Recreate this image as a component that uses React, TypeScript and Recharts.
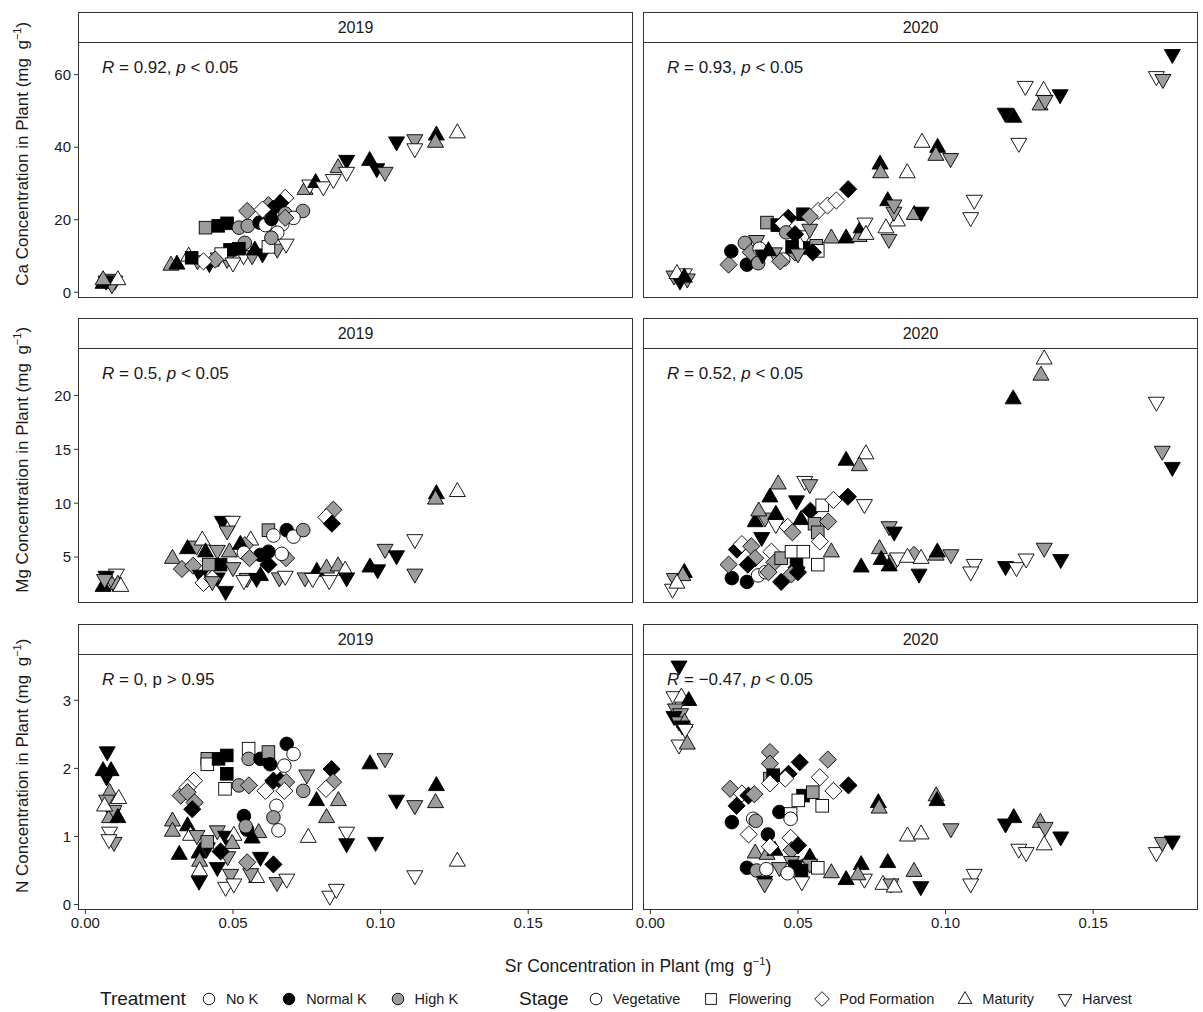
import React from 'react';
import { ScatterChart, Scatter, XAxis, YAxis } from 'recharts';

// [Sr, value, treatment (0 No K, 1 Normal K, 2 High K), stage (0 Veg, 1 Flow, 2 Pod, 3 Mat, 4 Harv)]
type Pt = [number, number, number, number];

const years = ['2019', '2020'];
const treatments = ['No K', 'Normal K', 'High K'];
const stages = ['Vegetative', 'Flowering', 'Pod Formation', 'Maturity', 'Harvest'];

const srTicks = [0, 0.05, 0.1, 0.15];
const caTicks = [0, 20, 40, 60];
const mgTicks = [5, 10, 15, 20];
const nTicks = [0, 1, 2, 3];

const caStats = ['0.92', '0.93'];
const mgStats = ['0.5', '0.52'];
const nStats = ['0', '\u22120.47'];
const nPText = ['p > 0.95', ''];

const ca2019: Pt[] = [
  [0.006, 2.5, 1, 3], [0.008, 3.5, 2, 4], [0.010, 3.0, 0, 4], [0.009, 2.0, 2, 4], [0.011, 3.5, 0, 3], [0.007, 3.0, 1, 4], [0.006, 3.5, 2, 3],
  [0.029, 7.5, 2, 3], [0.031, 7.8, 1, 3], [0.035, 10.0, 0, 3], [0.038, 8.6, 2, 4], [0.042, 7.8, 1, 4], [0.045, 9.4, 2, 4], [0.048, 9.0, 2, 4],
  [0.049, 11.7, 1, 1], [0.046, 10.5, 0, 1], [0.044, 9.0, 2, 2], [0.0536, 10.0, 0, 4], [0.0565, 10.0, 2, 4], [0.054, 13.6, 2, 0], [0.0574, 11.7, 1, 3],
  [0.060, 10.5, 1, 4], [0.065, 11.8, 2, 4], [0.068, 13.2, 0, 4], [0.052, 12.0, 1, 1], [0.040, 8.5, 0, 2], [0.036, 9.5, 1, 1], [0.050, 8.0, 0, 4], [0.062, 12.5, 0, 1],
  [0.0407, 17.8, 2, 1], [0.045, 18.3, 1, 1], [0.048, 19.0, 1, 1], [0.052, 17.8, 2, 0], [0.055, 18.3, 2, 0], [0.059, 19.2, 1, 0], [0.0548, 22.4, 2, 2],
  [0.062, 24.0, 2, 2], [0.0635, 23.0, 1, 2], [0.0677, 26.0, 0, 2], [0.060, 22.8, 0, 2], [0.066, 24.6, 1, 2], [0.0677, 21.7, 2, 0], [0.0737, 22.4, 2, 0],
  [0.0705, 20.5, 0, 0], [0.0667, 18.8, 0, 0], [0.065, 16.4, 0, 0], [0.063, 15.0, 2, 0], [0.061, 18.5, 0, 0], [0.0677, 20.5, 2, 2], [0.063, 20.2, 1, 0],
  [0.0744, 28.4, 2, 3], [0.076, 29.5, 0, 4], [0.078, 30.3, 1, 3], [0.0806, 29.0, 0, 4], [0.084, 31.0, 0, 4], [0.0856, 34.4, 2, 3], [0.0885, 36.3, 1, 4],
  [0.0885, 33.0, 0, 4], [0.0963, 36.4, 1, 3], [0.0987, 34.0, 1, 4], [0.1015, 33.0, 2, 4], [0.1054, 41.4, 1, 4], [0.1116, 42.0, 2, 4], [0.1116, 39.5, 0, 4],
  [0.1189, 43.4, 1, 3], [0.1186, 41.4, 2, 3], [0.126, 44.0, 0, 3],
];

const ca2020: Pt[] = [
  [0.008, 4.4, 2, 4], [0.010, 3.0, 1, 4], [0.0115, 5.0, 0, 4], [0.0125, 3.6, 2, 4], [0.009, 5.2, 0, 3], [0.0115, 4.2, 1, 3],
  [0.0265, 7.6, 2, 2], [0.0274, 11.3, 1, 0], [0.0327, 7.6, 1, 0], [0.032, 13.6, 2, 0], [0.034, 11.0, 2, 2], [0.036, 14.2, 2, 4], [0.0365, 8.0, 2, 0],
  [0.037, 12.0, 0, 0], [0.042, 10.8, 2, 4], [0.0395, 19.2, 2, 1], [0.043, 18.5, 1, 1], [0.0467, 20.5, 1, 2], [0.045, 19.0, 0, 2], [0.046, 16.5, 2, 0],
  [0.0517, 21.5, 1, 1], [0.0523, 15.5, 0, 4], [0.054, 17.3, 2, 4], [0.049, 16.0, 1, 2], [0.049, 11.0, 2, 2], [0.048, 12.5, 1, 1], [0.054, 12.2, 1, 1],
  [0.0562, 12.8, 2, 1], [0.0567, 11.4, 0, 1], [0.055, 11.0, 1, 2], [0.050, 10.5, 2, 4], [0.040, 11.5, 1, 3], [0.045, 9.0, 0, 0], [0.044, 8.5, 2, 2],
  [0.038, 10.2, 1, 4], [0.0568, 22.4, 0, 2], [0.060, 23.9, 0, 2], [0.063, 25.3, 0, 2], [0.067, 28.4, 1, 2], [0.054, 20.8, 2, 2],
  [0.0613, 15.0, 2, 3], [0.0663, 15.0, 1, 3], [0.0707, 15.4, 2, 3], [0.0714, 17.8, 1, 3], [0.0727, 19.0, 0, 4], [0.073, 16.0, 0, 3], [0.0798, 17.8, 0, 3],
  [0.0808, 14.5, 2, 4], [0.0837, 19.7, 0, 3], [0.0825, 22.0, 2, 4], [0.0804, 25.3, 1, 3], [0.0825, 24.0, 2, 4], [0.0894, 21.5, 2, 3], [0.0917, 22.0, 1, 4],
  [0.0778, 35.4, 1, 3], [0.078, 33.0, 2, 3], [0.087, 33.0, 0, 3], [0.092, 41.4, 0, 3], [0.0973, 40.0, 1, 3], [0.0967, 37.8, 2, 3], [0.1017, 36.8, 2, 4],
  [0.1097, 25.3, 0, 4], [0.1085, 20.5, 0, 4], [0.1202, 49.3, 1, 4], [0.1231, 48.3, 1, 3], [0.1248, 41.0, 0, 4], [0.127, 56.7, 0, 4], [0.1332, 55.7, 0, 3],
  [0.132, 51.7, 2, 3], [0.1337, 52.8, 2, 4], [0.1388, 54.4, 1, 4], [0.1714, 59.4, 0, 4], [0.1736, 58.6, 2, 4], [0.1768, 65.5, 1, 4],
];

const mg2019: Pt[] = [
  [0.006, 2.3, 1, 3], [0.0094, 2.6, 2, 4], [0.0105, 3.4, 0, 4], [0.011, 2.5, 2, 3], [0.007, 3.2, 1, 4], [0.0065, 2.9, 2, 4], [0.012, 2.3, 0, 3],
  [0.0295, 4.9, 2, 3], [0.0346, 5.8, 1, 3], [0.0327, 3.9, 2, 2], [0.0377, 6.0, 2, 4], [0.0365, 4.2, 2, 2], [0.0396, 6.6, 0, 3], [0.039, 3.3, 1, 4],
  [0.0447, 3.05, 1, 4], [0.040, 2.6, 0, 2], [0.0464, 8.3, 1, 4], [0.0498, 8.3, 0, 4], [0.048, 7.4, 2, 4], [0.0447, 5.6, 2, 4], [0.0407, 5.5, 1, 3],
  [0.0488, 5.5, 2, 3], [0.0458, 4.3, 1, 1], [0.0418, 4.3, 2, 1], [0.050, 4.0, 2, 4], [0.0548, 3.0, 2, 4], [0.0475, 1.8, 1, 4], [0.056, 6.6, 0, 3],
  [0.054, 6.1, 2, 2], [0.0525, 6.2, 1, 3], [0.0537, 5.4, 0, 0], [0.043, 3.0, 0, 2], [0.043, 2.7, 2, 4], [0.0537, 2.8, 0, 4], [0.0593, 5.2, 1, 0],
  [0.0556, 4.9, 2, 2], [0.062, 5.5, 1, 0], [0.062, 4.3, 1, 2], [0.068, 4.9, 2, 2], [0.0665, 5.3, 0, 0], [0.0593, 3.3, 1, 3], [0.058, 3.0, 1, 4],
  [0.0657, 3.05, 2, 4], [0.0677, 3.2, 0, 4], [0.062, 7.5, 2, 1], [0.0637, 7.0, 0, 0], [0.0682, 7.5, 1, 0], [0.0705, 6.9, 0, 0], [0.0738, 7.5, 2, 0],
  [0.084, 9.4, 2, 2], [0.0816, 8.7, 0, 2], [0.0835, 8.1, 1, 2],
  [0.0744, 3.05, 2, 4], [0.0784, 3.7, 1, 3], [0.077, 3.0, 0, 4], [0.0817, 4.0, 2, 3], [0.0856, 4.2, 2, 3], [0.088, 3.8, 0, 3], [0.0826, 2.8, 0, 4],
  [0.0885, 3.05, 1, 4], [0.0964, 4.1, 1, 3], [0.099, 3.8, 1, 4], [0.1015, 5.7, 2, 4], [0.1054, 5.1, 1, 4], [0.1116, 6.6, 0, 4], [0.1116, 3.4, 2, 4],
  [0.1189, 10.9, 1, 3], [0.1186, 10.4, 2, 3], [0.126, 11.1, 0, 3],
];

const mg2020: Pt[] = [
  [0.0075, 2.0, 0, 4], [0.0081, 3.0, 2, 4], [0.0115, 3.6, 1, 3], [0.011, 3.3, 2, 3], [0.009, 2.6, 0, 3],
  [0.0276, 3.05, 1, 0], [0.0265, 4.3, 2, 2], [0.0293, 5.7, 1, 2], [0.031, 6.2, 0, 2], [0.0342, 6.0, 2, 2], [0.0327, 2.7, 1, 0], [0.0365, 3.3, 0, 0],
  [0.0355, 4.9, 2, 2], [0.033, 4.3, 1, 2], [0.0388, 8.6, 2, 4], [0.0355, 8.3, 1, 3], [0.0367, 9.3, 2, 3], [0.0405, 10.6, 1, 3], [0.0433, 11.8, 2, 3],
  [0.0377, 6.8, 1, 4], [0.0425, 8.0, 0, 4], [0.0425, 9.0, 1, 3], [0.041, 5.5, 0, 2], [0.042, 4.5, 2, 2], [0.0443, 4.9, 2, 1], [0.039, 3.6, 0, 0],
  [0.040, 3.6, 2, 2], [0.0465, 7.8, 0, 2], [0.0481, 7.3, 2, 2], [0.0495, 10.2, 1, 4], [0.0542, 9.3, 1, 2], [0.051, 8.5, 1, 3], [0.0478, 5.5, 0, 1],
  [0.0518, 5.5, 0, 1], [0.0495, 4.3, 1, 1], [0.0495, 4.0, 1, 2], [0.0443, 2.7, 1, 2], [0.0478, 3.4, 2, 2], [0.050, 3.6, 1, 2], [0.0556, 8.1, 2, 1],
  [0.0567, 7.3, 2, 1], [0.0574, 6.45, 0, 2], [0.0602, 8.3, 2, 2], [0.0582, 9.8, 0, 1], [0.062, 10.3, 0, 2], [0.0669, 10.6, 1, 2], [0.0567, 4.3, 0, 1],
  [0.0613, 5.5, 2, 3], [0.0523, 12.0, 0, 4], [0.054, 11.7, 2, 4], [0.0725, 9.85, 0, 4], [0.0663, 14.0, 1, 3], [0.073, 14.6, 0, 3], [0.0708, 13.5, 2, 3],
  [0.0714, 4.1, 1, 3], [0.0809, 7.8, 2, 4], [0.0826, 7.3, 1, 4], [0.0776, 5.8, 2, 3], [0.0782, 4.8, 1, 3], [0.0809, 4.2, 1, 3], [0.0831, 4.7, 2, 4],
  [0.0893, 5.2, 2, 2], [0.0837, 4.9, 0, 4], [0.0871, 5.0, 0, 3], [0.0917, 4.9, 0, 3], [0.091, 3.4, 1, 4], [0.0968, 5.2, 2, 3], [0.0972, 5.5, 1, 3],
  [0.1018, 5.2, 2, 4], [0.1097, 4.3, 0, 4], [0.1085, 3.6, 0, 4], [0.1203, 4.1, 1, 4], [0.124, 4.0, 0, 4], [0.1273, 4.8, 0, 4], [0.1334, 5.8, 2, 4],
  [0.139, 4.75, 1, 4], [0.1229, 19.7, 1, 3], [0.1323, 21.9, 2, 3], [0.1334, 23.4, 0, 3], [0.1714, 19.35, 0, 4], [0.1734, 14.8, 2, 4], [0.1768, 13.3, 1, 4],
];

const n2019: Pt[] = [
  [0.0074, 2.24, 1, 4], [0.006, 1.97, 1, 3], [0.0087, 1.97, 1, 3], [0.0072, 1.87, 1, 4], [0.0082, 1.65, 2, 3], [0.0072, 1.53, 2, 4], [0.0113, 1.56, 0, 3],
  [0.0092, 1.33, 1, 4], [0.0082, 1.28, 2, 3], [0.0097, 1.38, 2, 4], [0.0065, 1.45, 0, 3], [0.011, 1.28, 1, 3], [0.0082, 1.06, 0, 4], [0.0097, 0.91, 2, 4],
  [0.008, 0.95, 0, 4],
  [0.0318, 0.74, 1, 3], [0.0295, 1.23, 2, 3], [0.0295, 1.08, 2, 3], [0.0346, 1.16, 1, 3], [0.0356, 1.02, 0, 3], [0.0378, 1.01, 2, 4], [0.0323, 1.6, 2, 2],
  [0.0368, 1.82, 0, 2], [0.0346, 1.72, 0, 2], [0.0346, 1.65, 2, 2], [0.037, 1.5, 2, 2], [0.0362, 1.4, 1, 2], [0.0413, 2.14, 2, 1], [0.0413, 2.06, 0, 1],
  [0.0451, 2.14, 1, 1], [0.0479, 2.19, 1, 1], [0.0479, 1.92, 1, 1], [0.0473, 1.7, 0, 1], [0.052, 1.75, 2, 0], [0.0554, 1.75, 2, 2], [0.0553, 2.29, 0, 1],
  [0.0553, 2.14, 2, 0], [0.0593, 2.14, 1, 0], [0.062, 2.24, 2, 1], [0.0626, 2.06, 1, 0], [0.0682, 2.36, 1, 0], [0.0705, 2.21, 0, 0], [0.0674, 2.04, 0, 0],
  [0.061, 1.67, 0, 2], [0.0637, 1.82, 1, 2], [0.066, 1.82, 1, 2], [0.068, 1.8, 2, 2], [0.0674, 1.67, 0, 2], [0.0738, 1.67, 2, 0], [0.0647, 1.45, 0, 0],
  [0.0637, 1.28, 2, 0], [0.0654, 1.09, 0, 0], [0.075, 1.9, 2, 4], [0.0834, 1.99, 1, 2], [0.0839, 1.8, 2, 2], [0.0815, 1.7, 0, 2], [0.0783, 1.53, 1, 3],
  [0.0857, 1.53, 2, 3], [0.0817, 1.28, 2, 3], [0.0755, 0.99, 0, 3], [0.0885, 1.06, 0, 4], [0.0885, 0.89, 1, 4],
  [0.0537, 1.3, 1, 0], [0.0548, 1.1, 1, 0], [0.0543, 1.15, 2, 0], [0.0587, 1.06, 2, 3], [0.0565, 0.98, 1, 3], [0.0447, 1.08, 2, 4], [0.0475, 1.0, 1, 4],
  [0.0503, 1.02, 0, 3], [0.0497, 0.9, 2, 3], [0.0385, 0.76, 1, 3], [0.0413, 0.83, 1, 4], [0.0482, 0.7, 2, 4], [0.0447, 0.54, 1, 4], [0.0387, 0.64, 2, 3],
  [0.0385, 0.34, 1, 4], [0.0387, 0.5, 0, 3], [0.0492, 0.44, 2, 4], [0.0475, 0.25, 0, 4], [0.0503, 0.3, 0, 4], [0.058, 0.4, 0, 3], [0.056, 0.45, 2, 4],
  [0.0548, 0.62, 2, 2], [0.0593, 0.69, 1, 4], [0.0637, 0.59, 1, 2], [0.0649, 0.32, 2, 4], [0.0682, 0.37, 0, 4], [0.0828, 0.12, 0, 4], [0.085, 0.22, 0, 4],
  [0.0458, 0.78, 1, 2], [0.0413, 0.92, 2, 1],
  [0.0964, 2.07, 1, 3], [0.1015, 2.14, 2, 4], [0.1054, 1.53, 1, 4], [0.1116, 1.45, 2, 4], [0.1189, 1.75, 1, 3], [0.1186, 1.5, 2, 3], [0.0983, 0.91, 1, 4],
  [0.1116, 0.42, 0, 4], [0.126, 0.64, 0, 3],
];

const n2020: Pt[] = [
  [0.0097, 3.5, 1, 4], [0.008, 3.05, 0, 4], [0.0105, 3.05, 0, 3], [0.013, 3.0, 1, 3], [0.0085, 2.87, 2, 4], [0.0102, 2.8, 2, 4], [0.008, 2.76, 1, 4],
  [0.0097, 2.68, 2, 4], [0.0116, 2.68, 2, 3], [0.0108, 2.62, 1, 4], [0.0118, 2.57, 0, 4], [0.0097, 2.34, 0, 4], [0.0125, 2.36, 2, 3],
  [0.0405, 2.24, 2, 2], [0.0405, 2.07, 2, 2], [0.0506, 2.09, 1, 2], [0.0601, 2.13, 2, 2], [0.0468, 1.92, 1, 2], [0.0457, 1.85, 0, 2], [0.0574, 1.87, 0, 2],
  [0.0671, 1.75, 1, 2], [0.062, 1.67, 0, 2], [0.027, 1.7, 2, 2], [0.031, 1.63, 0, 2], [0.0332, 1.6, 1, 2], [0.0352, 1.62, 2, 2], [0.0292, 1.45, 1, 2],
  [0.0405, 1.85, 2, 1], [0.0416, 1.9, 1, 1], [0.0405, 1.78, 0, 2], [0.0517, 1.6, 1, 1], [0.055, 1.65, 2, 1], [0.0501, 1.53, 0, 1], [0.0582, 1.45, 0, 1],
  [0.0437, 1.36, 1, 0], [0.0475, 1.33, 0, 1], [0.0475, 1.26, 0, 0], [0.0276, 1.21, 1, 0], [0.0348, 1.26, 0, 0], [0.0357, 1.23, 2, 0], [0.0333, 1.03, 0, 2],
  [0.0398, 1.03, 1, 0], [0.0475, 0.98, 0, 2],
  [0.0355, 0.76, 2, 3], [0.0395, 0.74, 2, 3], [0.0422, 0.8, 1, 3], [0.0405, 0.85, 0, 2], [0.0478, 0.8, 2, 2], [0.05, 0.87, 1, 2], [0.0478, 0.63, 2, 4],
  [0.049, 0.56, 1, 1], [0.054, 0.7, 1, 3], [0.054, 0.59, 2, 4], [0.0327, 0.54, 1, 0], [0.036, 0.5, 2, 0], [0.0393, 0.52, 0, 0], [0.0437, 0.54, 2, 4],
  [0.0567, 0.54, 0, 1], [0.0613, 0.47, 2, 3], [0.0387, 0.34, 1, 4], [0.0387, 0.3, 2, 4], [0.0465, 0.46, 0, 0], [0.0512, 0.5, 1, 1], [0.0513, 0.33, 0, 4],
  [0.0663, 0.37, 1, 3], [0.0714, 0.59, 1, 3], [0.0725, 0.37, 0, 4], [0.0703, 0.44, 2, 3], [0.0804, 0.62, 1, 3], [0.0788, 0.3, 0, 3], [0.0815, 0.3, 2, 4],
  [0.0826, 0.26, 0, 3], [0.0893, 0.49, 2, 3], [0.0916, 0.26, 1, 4], [0.0871, 1.01, 0, 3], [0.0917, 1.04, 0, 3], [0.0772, 1.5, 1, 3], [0.0775, 1.42, 2, 3],
  [0.0968, 1.6, 2, 3], [0.0971, 1.53, 1, 3], [0.1018, 1.11, 2, 4], [0.1097, 0.44, 0, 4], [0.1085, 0.3, 0, 4], [0.1203, 1.18, 1, 4], [0.1231, 1.28, 1, 3],
  [0.1248, 0.81, 0, 4], [0.1273, 0.76, 0, 4], [0.1321, 1.21, 2, 3], [0.1337, 1.13, 2, 4], [0.1334, 0.88, 0, 3], [0.139, 0.99, 1, 4], [0.1714, 0.76, 0, 4],
  [0.1734, 0.91, 2, 4], [0.1768, 0.93, 1, 4],
];

const FONT = '"Liberation Sans", Arial, Helvetica, sans-serif';
const FILLS = ['#ffffff', '#000000', '#9c9c9c'];
const BORDER = '#333333';
const SR_DOMAIN: [number, number] = [-0.0025, 0.1855];
const PANEL_W = 555;
const COL_LEFT = [78, 643];
const PAD = 10;

const rows = [
  { el: 'Ca', top: 42, height: 256, domain: [-1.6, 69] as [number, number], ticks: caTicks, data: [ca2019, ca2020], stats: caStats, pText: ['', ''] },
  { el: 'Mg', top: 348, height: 255, domain: [0.74, 24.4] as [number, number], ticks: mgTicks, data: [mg2019, mg2020], stats: mgStats, pText: ['', ''] },
  { el: 'N', top: 654, height: 256, domain: [-0.08, 3.68] as [number, number], ticks: nTicks, data: [n2019, n2020], stats: nStats, pText: nPText },
];

function Glyph({ cx, cy, s, fill, k = 1 }: { cx: number; cy: number; s: number; fill: string; k?: number }) {
  const common = { fill, stroke: '#000', strokeWidth: 0.9 };
  if (s === 0) return <circle cx={cx} cy={cy} r={6.8 * k} {...common} />;
  if (s === 1) return <rect x={cx - 6.3 * k} y={cy - 6.3 * k} width={12.6 * k} height={12.6 * k} {...common} />;
  if (s === 2) {
    const h = 8.6 * k;
    return <polygon points={`${cx},${cy - h} ${cx + h},${cy} ${cx},${cy + h} ${cx - h},${cy}`} {...common} />;
  }
  const w = 8 * k;
  if (s === 3) {
    return <polygon points={`${cx},${cy - 8.8 * k} ${cx + w},${cy + 5.2 * k} ${cx - w},${cy + 5.2 * k}`} {...common} />;
  }
  return <polygon points={`${cx},${cy + 8.8 * k} ${cx + w},${cy - 5.2 * k} ${cx - w},${cy - 5.2 * k}`} {...common} />;
}

function Mark(props: any) {
  const { cx, cy, payload } = props;
  if (cx == null || cy == null) return null;
  return <Glyph cx={cx} cy={cy} s={payload.s} fill={FILLS[payload.t]} />;
}

const toRows = (arr: Pt[]) => arr.map(([x, y, t, s]) => ({ x, y, t, s }));

function Panel({ row, col }: { row: number; col: number }) {
  const r = rows[row];
  const isLeft = col === 0;
  const isBottom = row === 2;
  const axisW = 44;
  const padL = isLeft ? 0 : 24;
  const chartLeft = isLeft ? COL_LEFT[0] - axisW : COL_LEFT[1] - padL;
  const width = PANEL_W + (isLeft ? axisW : padL) + 16;
  const xH = isBottom ? 34 : 0;
  const height = r.height + PAD * 2 + xH;
  const tickStyle = { fill: '#1a1a1a', fontSize: 15, fontFamily: FONT };
  return (
    <div style={{ position: 'absolute', left: chartLeft, top: r.top - PAD }}>
      <ScatterChart width={width} height={height} margin={{ top: PAD, right: 16, bottom: PAD, left: padL }}>
        <XAxis
          type="number"
          dataKey="x"
          domain={SR_DOMAIN}
          ticks={srTicks}
          interval={0}
          allowDataOverflow
          hide={!isBottom}
          height={34}
          tickSize={4}
          tickMargin={3}
          axisLine={false}
          tickLine={{ stroke: BORDER }}
          tick={tickStyle}
          tickFormatter={(v: number) => v.toFixed(2)}
        />
        <YAxis
          type="number"
          dataKey="y"
          domain={r.domain}
          ticks={r.ticks}
          interval={0}
          allowDataOverflow
          hide={!isLeft}
          width={axisW}
          tickSize={4}
          tickMargin={3}
          axisLine={false}
          tickLine={{ stroke: BORDER }}
          tick={tickStyle}
        />
        <Scatter data={toRows(r.data[col])} isAnimationActive={false} shape={(p: any) => <Mark {...p} />} />
      </ScatterChart>
    </div>
  );
}

function StatText({ row, col }: { row: number; col: number }) {
  const r = rows[row];
  const pText = r.pText[col];
  return (
    <div
      style={{
        position: 'absolute', left: COL_LEFT[col] + 24, top: r.top + 16, fontSize: 17, lineHeight: '20px',
        fontFamily: FONT, color: '#1a1a1a', whiteSpace: 'pre',
      }}
    >
      <i>R</i>{' = ' + r.stats[col] + ', '}
      {pText ? <span>{pText}</span> : <span><i>p</i>{' < 0.05'}</span>}
    </div>
  );
}

function LegendItem({ s, fill, label }: { s: number; fill: string; label: string }) {
  return (
    <div style={{ display: 'flex', alignItems: 'center', marginRight: 22 }}>
      <svg width={18} height={18} style={{ marginRight: 8 }}>
        <Glyph cx={9} cy={9} s={s} fill={fill} k={0.85} />
      </svg>
      <span style={{ fontSize: 14.5, color: '#1a1a1a' }}>{label}</span>
    </div>
  );
}

export default function App() {
  const labelStyle: React.CSSProperties = { position: 'absolute', fontFamily: FONT, color: '#1a1a1a', whiteSpace: 'nowrap' };
  const sup = <sup style={{ fontSize: 11 }}>{'\u22121'}</sup>;
  const legendRow: React.CSSProperties = { position: 'absolute', top: 988, height: 22, display: 'flex', alignItems: 'center', fontFamily: FONT, whiteSpace: 'nowrap' };
  return (
    <div style={{ position: 'absolute', left: 0, top: 0, width: 1203, height: 1012, background: '#fff', fontFamily: FONT }}>
      {rows.map((r, ri) => (
        <React.Fragment key={r.el}>
          {COL_LEFT.map((left, ci) => (
            <React.Fragment key={ci}>
              <div
                style={{
                  position: 'absolute', left, top: r.top - 30, width: PANEL_W, height: 31, boxSizing: 'border-box',
                  border: `1.4px solid ${BORDER}`, background: '#fff', textAlign: 'center', fontSize: 16,
                  lineHeight: '29px', color: '#1a1a1a',
                }}
              >
                {years[ci]}
              </div>
              <Panel row={ri} col={ci} />
              <div
                style={{
                  position: 'absolute', left, top: r.top, width: PANEL_W, height: r.height, boxSizing: 'border-box',
                  border: `1.4px solid ${BORDER}`, pointerEvents: 'none',
                }}
              />
              <StatText row={ri} col={ci} />
            </React.Fragment>
          ))}
          <div
            style={{
              ...labelStyle, left: 20 - 170, top: r.top + r.height / 2 - 19 - 11, width: 340, textAlign: 'center',
              fontSize: 17, lineHeight: '22px', transform: 'rotate(-90deg)',
            }}
          >
            {r.el} Concentration in Plant (mg{'\u2002'}g{sup})
          </div>
        </React.Fragment>
      ))}

      <div style={{ ...labelStyle, left: 338, top: 950, width: 600, textAlign: 'center', fontSize: 17.5, lineHeight: '22px' }}>
        Sr Concentration in Plant (mg{'\u2002'}g{sup})
      </div>

      <div style={{ ...legendRow, left: 100 }}>
        <span style={{ fontSize: 19, color: '#1a1a1a', marginRight: 14 }}>Treatment</span>
        {treatments.map((t, i) => <LegendItem key={t} s={0} fill={FILLS[i]} label={t} />)}
      </div>
      <div style={{ ...legendRow, left: 519 }}>
        <span style={{ fontSize: 19, color: '#1a1a1a', marginRight: 18 }}>Stage</span>
        {stages.map((st, i) => <LegendItem key={st} s={i} fill="#ffffff" label={st} />)}
      </div>
    </div>
  );
}
